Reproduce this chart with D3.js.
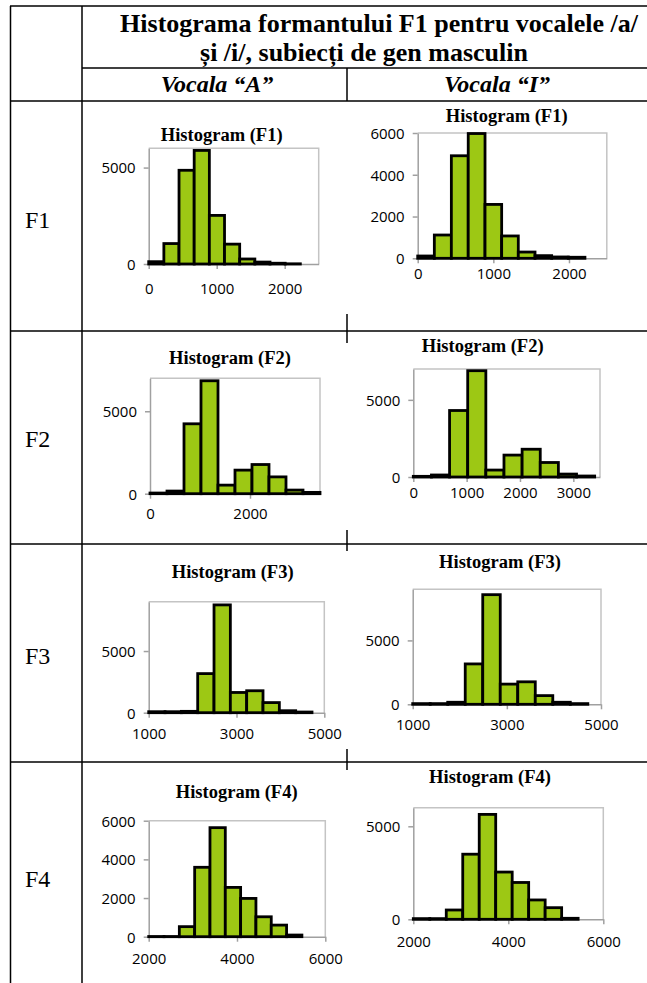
<!DOCTYPE html>
<html><head><meta charset="utf-8">
<script src="https://cdn.jsdelivr.net/npm/d3@7"></script>
<style>body{margin:0;background:#fff}svg{display:block}</style>
</head><body>
<svg id="c" width="647" height="983"></svg>
<script>
// ---- data ----
const titleLines = ["Histograma formantului F1 pentru vocalele /a/", "și /i/, subiecți de gen masculin"];
const colLabels = ["Vocala “A”", "Vocala “I”"];
const rowLabels = ["F1", "F2", "F3", "F4"];
const chartTitles = ["Histogram (F1)", "Histogram (F2)", "Histogram (F3)", "Histogram (F4)"];

const f1aEdges = [0, 223, 446, 669, 892, 1115, 1338, 1561, 1784, 2007, 2230];
const f1aCounts = [120, 1060, 4860, 5890, 2520, 1030, 260, 100, 40, 10];
const f1iEdges = [0, 220, 445, 668, 890, 1110, 1330, 1551, 1771, 1991, 2211];
const f1iCounts = [110, 1115, 4910, 5975, 2580, 1070, 300, 127, 64, 50];

const f2aEdges = [0, 340, 680, 1020, 1360, 1700, 2040, 2380, 2720, 3060, 3400];
const f2aCounts = [40, 160, 4240, 6850, 520, 1430, 1770, 1020, 220, 80];
const f2iEdges = [0, 340, 680, 1020, 1360, 1700, 2040, 2380, 2720, 3060, 3400];
const f2iCounts = [43, 130, 4310, 6890, 450, 1420, 1800, 940, 190, 64];

const f3aEdges = [1000, 1372, 1744, 2116, 2488, 2860, 3232, 3604, 3976, 4348, 4720];
const f3aCounts = [80, 80, 110, 3170, 8740, 1640, 1780, 820, 160, 55];
const f3iEdges = [1000, 1372, 1744, 2116, 2488, 2860, 3232, 3604, 3976, 4348, 4720];
const f3iCounts = [53, 53, 160, 3160, 8580, 1580, 1760, 680, 160, 53];

const f4aEdges = [2000, 2347, 2694, 3041, 3388, 3735, 4082, 4429, 4776, 5123, 5470];
const f4aCounts = [10, 10, 520, 3590, 5640, 2550, 1980, 1030, 600, 86];
const f4iEdges = [2000, 2347, 2694, 3041, 3388, 3735, 4082, 4429, 4776, 5123, 5470];
const f4iCounts = [36, 36, 500, 3500, 5640, 2540, 1980, 1040, 625, 54];

const xTicksF1 = [0, 1000, 2000];
const xTicksF2a = [0, 2000];
const xTicksF2i = [0, 1000, 2000, 3000];
const xTicksF3 = [1000, 3000, 5000];
const xTicksF4 = [2000, 4000, 6000];
const yTicks5k = [0, 5000];
const yTicks2k = [0, 2000, 4000, 6000];

const xDomF1 = [0, 2500], xDomF2a = [0, 3400], xDomF2i = [0, 3500], xDomF3 = [1000, 5000], xDomF4 = [2000, 6000];
const yDomF1 = [0, 6000], yDomF2 = [0, 7000], yDomF3 = [0, 9000], yDomF4 = [0, 6000];

// ---- layout ----
const charts = [
  {title: chartTitles[0], edges: f1aEdges, counts: f1aCounts, xt: xTicksF1, yt: yTicks5k, xd: xDomF1, yd: yDomF1,
   p: [148.7, 148.3, 318.7, 264], tx: 221.7, ty: 140.7, xl: 25},
  {title: chartTitles[0], edges: f1iEdges, counts: f1iCounts, xt: xTicksF1, yt: yTicks2k, xd: xDomF1, yd: yDomF1,
   p: [417.7, 133, 606.8, 258.3], tx: 506.7, ty: 121.7, xl: 16},
  {title: chartTitles[1], edges: f2aEdges, counts: f2aCounts, xt: xTicksF2a, yt: yTicks5k, xd: xDomF2a, yd: yDomF2,
   p: [150, 378.3, 320, 493.7], tx: 230, ty: 364, xl: 20},
  {title: chartTitles[1], edges: f2iEdges, counts: f2iCounts, xt: xTicksF2i, yt: yTicks5k, xd: xDomF2i, yd: yDomF2,
   p: [413.3, 369, 600, 477], tx: 482.7, ty: 351.7, xl: 16},
  {title: chartTitles[2], edges: f3aEdges, counts: f3aCounts, xt: xTicksF3, yt: yTicks5k, xd: xDomF3, yd: yDomF3,
   p: [148.7, 601.7, 324.3, 712.7], tx: 232.7, ty: 577.7, xl: 21},
  {title: chartTitles[2], edges: f3iEdges, counts: f3iCounts, xt: xTicksF3, yt: yTicks5k, xd: xDomF3, yd: yDomF3,
   p: [412.7, 589.3, 601, 704.3], tx: 500, ty: 567.7, xl: 21},
  {title: chartTitles[3], edges: f4aEdges, counts: f4aCounts, xt: xTicksF4, yt: yTicks2k, xd: xDomF4, yd: yDomF4,
   p: [148.7, 820.7, 325.3, 936.7], tx: 236.7, ty: 798.3, xl: 22},
  {title: chartTitles[3], edges: f4iEdges, counts: f4iCounts, xt: xTicksF4, yt: yTicks5k, xd: xDomF4, yd: yDomF4,
   p: [413.3, 807.7, 603.3, 919.3], tx: 490, ty: 783.3, xl: 23}
];

const svg = d3.select("#c");
svg.append("rect").attr("width", 647).attr("height", 983).attr("fill", "#fff");

const serif = "'Liberation Serif', 'Times New Roman', serif";
const sans = "'Open Sans', 'DejaVu Sans', sans-serif";
const GREEN = "#9dc814";

// table lines
const tl = svg.append("g").attr("stroke", "#000").attr("stroke-width", 1.5);
const H = (y, x0, x1) => tl.append("line").attr("x1", x0).attr("x2", x1).attr("y1", y).attr("y2", y);
const V = (x, y0, y1) => tl.append("line").attr("x1", x).attr("x2", x).attr("y1", y0).attr("y2", y1);
H(6, 10, 647); H(68, 82, 647);
[101, 331, 544, 762].forEach(y => H(y, 10, 647));
V(10.5, 6, 983); V(82, 6, 983);
V(347, 68, 101); V(347, 314, 343); V(347, 530, 551); V(347, 749, 770);

// header texts
svg.append("text").attr("x", 379).attr("y", 32).attr("text-anchor", "middle")
  .attr("font-family", serif).attr("font-weight", "bold").attr("font-size", 26).text(titleLines[0]);
svg.append("text").attr("x", 364).attr("y", 61).attr("text-anchor", "middle")
  .attr("font-family", serif).attr("font-weight", "bold").attr("font-size", 26).text(titleLines[1]);
[217, 497].forEach((x, i) => svg.append("text").attr("x", x).attr("y", 92).attr("text-anchor", "middle")
  .attr("font-family", serif).attr("font-weight", "bold").attr("font-style", "italic").attr("font-size", 24).text(colLabels[i]));
[228, 447, 664, 887].forEach((y, i) => svg.append("text").attr("x", 25).attr("y", y)
  .attr("font-family", serif).attr("font-size", 24).text(rowLabels[i]));

// charts
charts.forEach(c => {
  const [x0, y0, x1, y1] = c.p;
  const x = d3.scaleLinear().domain(c.xd).range([x0, x1]);
  const y = d3.scaleLinear().domain(c.yd).range([y1, y0]);
  const g = svg.append("g");
  g.append("text").attr("x", c.tx).attr("y", c.ty).attr("text-anchor", "middle")
    .attr("font-family", serif).attr("font-weight", "bold").attr("font-size", 18.5).text(c.title);
  // plot border (top/right)
  g.append("path").attr("d", `M${x0},${y0}H${x1}V${y1}`).attr("fill", "none")
    .attr("stroke", "#c4c4c4").attr("stroke-width", 1.5);
  // axes
  const ax = g.append("g").attr("transform", `translate(0,${y1})`)
    .call(d3.axisBottom(x).tickValues(c.xt).tickSize(5).tickSizeOuter(0).tickFormat(d3.format("d")));
  const ay = g.append("g").attr("transform", `translate(${x0},0)`)
    .call(d3.axisLeft(y).tickValues(c.yt).tickSize(5).tickSizeOuter(0).tickFormat(d3.format("d")));
  [ax, ay].forEach(a => {
    a.selectAll("path.domain").attr("stroke", "#a0a0a0").attr("stroke-width", 1.5);
    a.selectAll(".tick line").attr("stroke", "#a0a0a0").attr("stroke-width", 1.5);
    a.selectAll(".tick text").attr("font-family", sans).attr("font-size", 15).attr("fill", "#000");
  });
  ax.selectAll(".tick text").attr("y", 0).attr("dy", c.xl + 5);
  ay.selectAll(".tick text").attr("x", -13).attr("dy", "0.36em");
  // bars
  const bins = c.counts.map((v, i) => ({x0: c.edges[i], x1: c.edges[i + 1], v}));
  g.append("g").selectAll("rect").data(bins).join("rect")
    .attr("x", d => x(d.x0)).attr("width", d => x(d.x1) - x(d.x0))
    .attr("y", d => y(d.v)).attr("height", d => y(0) - y(d.v))
    .attr("fill", GREEN).attr("stroke", "#000").attr("stroke-width", 2.8);
});
</script>
</body></html>
